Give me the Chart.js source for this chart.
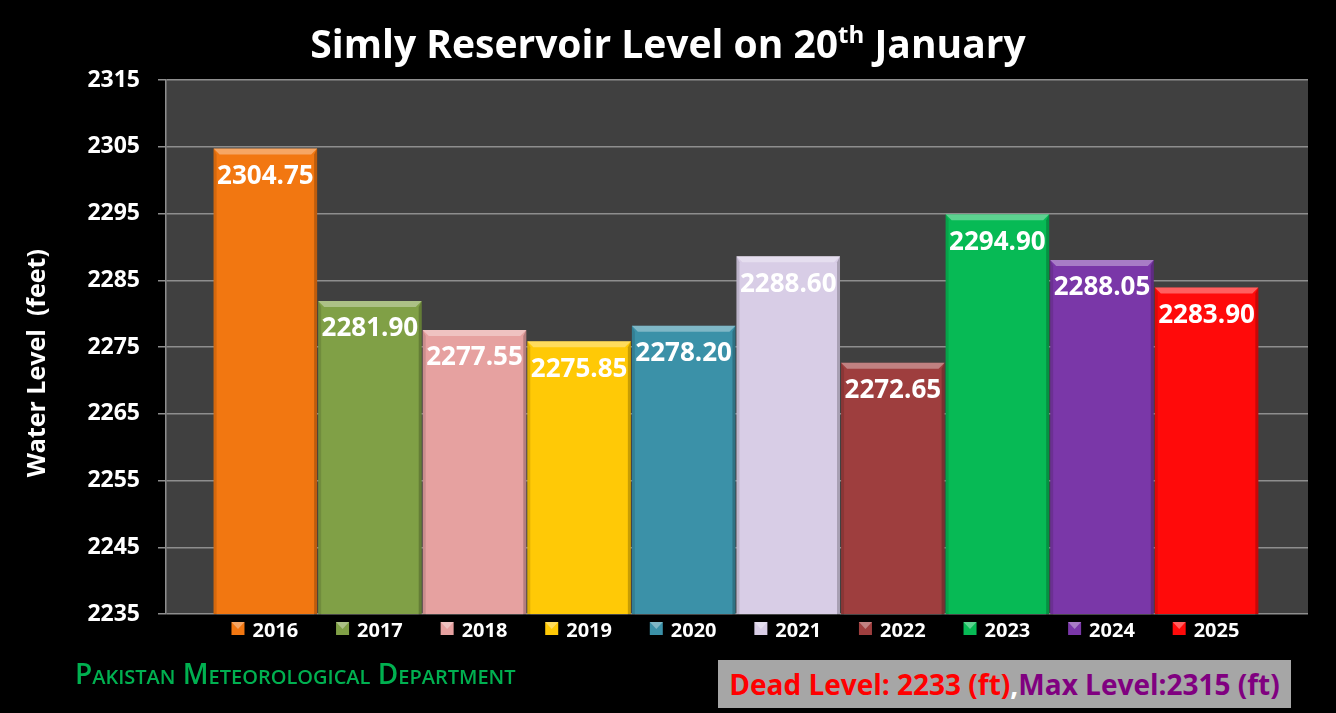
<!DOCTYPE html>
<html>
<head>
<meta charset="utf-8">
<title>Simly Reservoir Level</title>
<script src="https://cdn.jsdelivr.net/npm/chart.js@4.4.1/dist/chart.umd.min.js"></script>
<style>
  html, body { margin: 0; padding: 0; background: #000; }
  #wrap { position: relative; width: 1336px; height: 713px; overflow: hidden; font-family: 'Open Sans', sans-serif; }
  #chart { position: absolute; left: 0; top: 0; }
  .title { position: absolute; left: 0; top: 23px; width: 1336px; text-align: center; color: #fff; font-weight: 700; font-size: 39px; line-height: 39px; }
  .title sup { font-size: 24px; line-height: 0; vertical-align: 15px; }
  .pmd { position: absolute; left: 75px; top: 654px; color: #00b050; font-weight: 600; font-size: 28px; font-variant: small-caps; white-space: nowrap; }
  .levels { position: absolute; left: 718px; top: 660px; width: 573px; height: 48px; background: #a6a6a6; font-weight: 700; font-size: 28px; line-height: 48px; text-align: center; white-space: nowrap; }
  .dead { color: #ff0000; }
  .comma { color: #fff; }
  .max { color: #800080; }
</style>
</head>
<body>
<div id="wrap">
  <canvas id="chart" width="1336" height="713"></canvas>
  <div class="title">Simly Reservoir Level on 20<sup>th</sup> January</div>
  <div class="pmd">Pakistan Meteorological Department</div>
  <div class="levels"><span class="dead">Dead Level: 2233 (ft)</span><span class="comma">,</span><span class="max">Max Level:2315 (ft)</span></div>
</div>
<script>
const years = ['2016', '2017', '2018', '2019', '2020', '2021', '2022', '2023', '2024', '2025'];
const levels = [2304.75, 2281.90, 2277.55, 2275.85, 2278.20, 2288.60, 2272.65, 2294.90, 2288.05, 2283.90];
const barColors = ['#f27711', '#80a046', '#e6a1a0', '#ffc906', '#3b91a8', '#d8cde6', '#9e3e3e', '#07ba55', '#7a37a8', '#ff0a0a'];
const yMin = 2235;
const yMax = 2315;
const yStep = 10;

const gridColor = '#8e8e8e';

// dark plot area behind the bars
const plotBg = {
    id: 'plotBg',
    beforeDraw(chart) {
        const { ctx, chartArea: a } = chart;
        ctx.save();
        ctx.fillStyle = '#404040';
        ctx.fillRect(a.left, a.top, a.right - a.left, a.bottom - a.top);
        ctx.restore();
    }
};

// bevel look + value labels on each bar
const barDeco = {
    id: 'barDeco',
    afterDatasetsDraw(chart) {
        const ctx = chart.ctx;
        chart.getDatasetMeta(0).data.forEach((bar, i) => {
            const { x, y, base, width } = bar.getProps(['x', 'y', 'base', 'width'], true);
            const l = x - width / 2, r = x + width / 2, b = 6, s = 3;
            ctx.save();
            ctx.fillStyle = 'rgba(255,255,255,0.35)';
            ctx.beginPath();
            ctx.moveTo(l, y); ctx.lineTo(r, y); ctx.lineTo(r - b, y + b); ctx.lineTo(l + b, y + b);
            ctx.closePath(); ctx.fill();
            ctx.fillStyle = 'rgba(0,0,0,0.22)';
            ctx.beginPath();
            ctx.moveTo(r, y); ctx.lineTo(r, base); ctx.lineTo(r - s, base - s); ctx.lineTo(r - s, y + b);
            ctx.closePath(); ctx.fill();
            ctx.fillStyle = 'rgba(0,0,0,0.12)';
            ctx.beginPath();
            ctx.moveTo(l, y); ctx.lineTo(l, base); ctx.lineTo(l + s, base - s); ctx.lineTo(l + s, y + b);
            ctx.closePath(); ctx.fill();
            ctx.fillStyle = 'rgba(0,0,0,0.18)';
            ctx.fillRect(l, base - s, width, s);

            ctx.fillStyle = '#fff';
            ctx.font = 'bold 26px "Open Sans"';
            ctx.textAlign = 'center';
            ctx.textBaseline = 'middle';
            ctx.fillText(levels[i].toFixed(2), x, y + 28);
            ctx.restore();
        });
    }
};

// coloured squares beside the year labels (legend look)
const legendBoxes = {
    id: 'legendBoxes',
    afterDraw(chart) {
        const ctx = chart.ctx;
        const xs = chart.scales.x;
        const offset = xs.options.ticks.labelOffset;
        ctx.save();
        ctx.font = 'bold 20px "Open Sans"';
        years.forEach((yr, i) => {
            const cx = xs.getPixelForValue(i) + offset;
            const w = ctx.measureText(yr).width;
            const bx = cx - w / 2 - 8 - 13;
            const by = 622;
            ctx.fillStyle = barColors[i];
            ctx.fillRect(bx, by, 13, 13);
            ctx.fillStyle = 'rgba(255,255,255,0.35)';
            ctx.beginPath();
            ctx.moveTo(bx, by); ctx.lineTo(bx + 13, by); ctx.lineTo(bx + 6.5, by + 7);
            ctx.closePath(); ctx.fill();
        });
        ctx.restore();
    }
};

new Chart(document.getElementById('chart'), {
    type: 'bar',
    data: {
        datasets: [{
            data: levels.map((v, i) => ({ x: i, y: v })),
            backgroundColor: barColors,
            borderWidth: 0,
            barPercentage: 0.99,
            categoryPercentage: 1
        }]
    },
    options: {
        responsive: false,
        animation: false,
        layout: { padding: { top: 80, right: 28, bottom: 0, left: 0 } },
        plugins: {
            legend: { display: false },
            tooltip: { enabled: false }
        },
        scales: {
            x: {
                type: 'linear',
                offset: false,
                min: -0.95,
                max: 9.97,
                afterBuildTicks(scale) {
                    scale.ticks = years.map((_, i) => ({ value: i }));
                },
                afterFit(scale) { scale.height = 99; },
                grid: { display: false },
                border: { display: false },
                ticks: {
                    callback: (v) => years[v],
                    color: '#fff',
                    font: { family: 'Open Sans', size: 20, weight: 'bold' },
                    padding: -3,
                    labelOffset: 10,
                    maxRotation: 0,
                    autoSkip: false
                }
            },
            y: {
                min: yMin,
                max: yMax,
                afterFit(scale) { scale.width = 166; },
                grid: { color: gridColor, lineWidth: 1.5, tickLength: 8 },
                border: { display: true, color: gridColor, width: 1.5 },
                ticks: {
                    stepSize: yStep,
                    callback: (v) => String(v),
                    color: '#fff',
                    padding: 18,
                    font: { family: 'Open Sans', size: 23, weight: 'bold' }
                },
                title: {
                    display: true,
                    // trailing spaces nudge the rotated title down to match the original
                    text: 'Water Level  (feet)     ',
                    color: '#fff',
                    font: { family: 'Open Sans', size: 25, weight: 'bold' },
                    padding: { top: 23, bottom: 0 }
                }
            }
        }
    },
    plugins: [plotBg, barDeco, legendBoxes]
});
</script>
</body>
</html>
